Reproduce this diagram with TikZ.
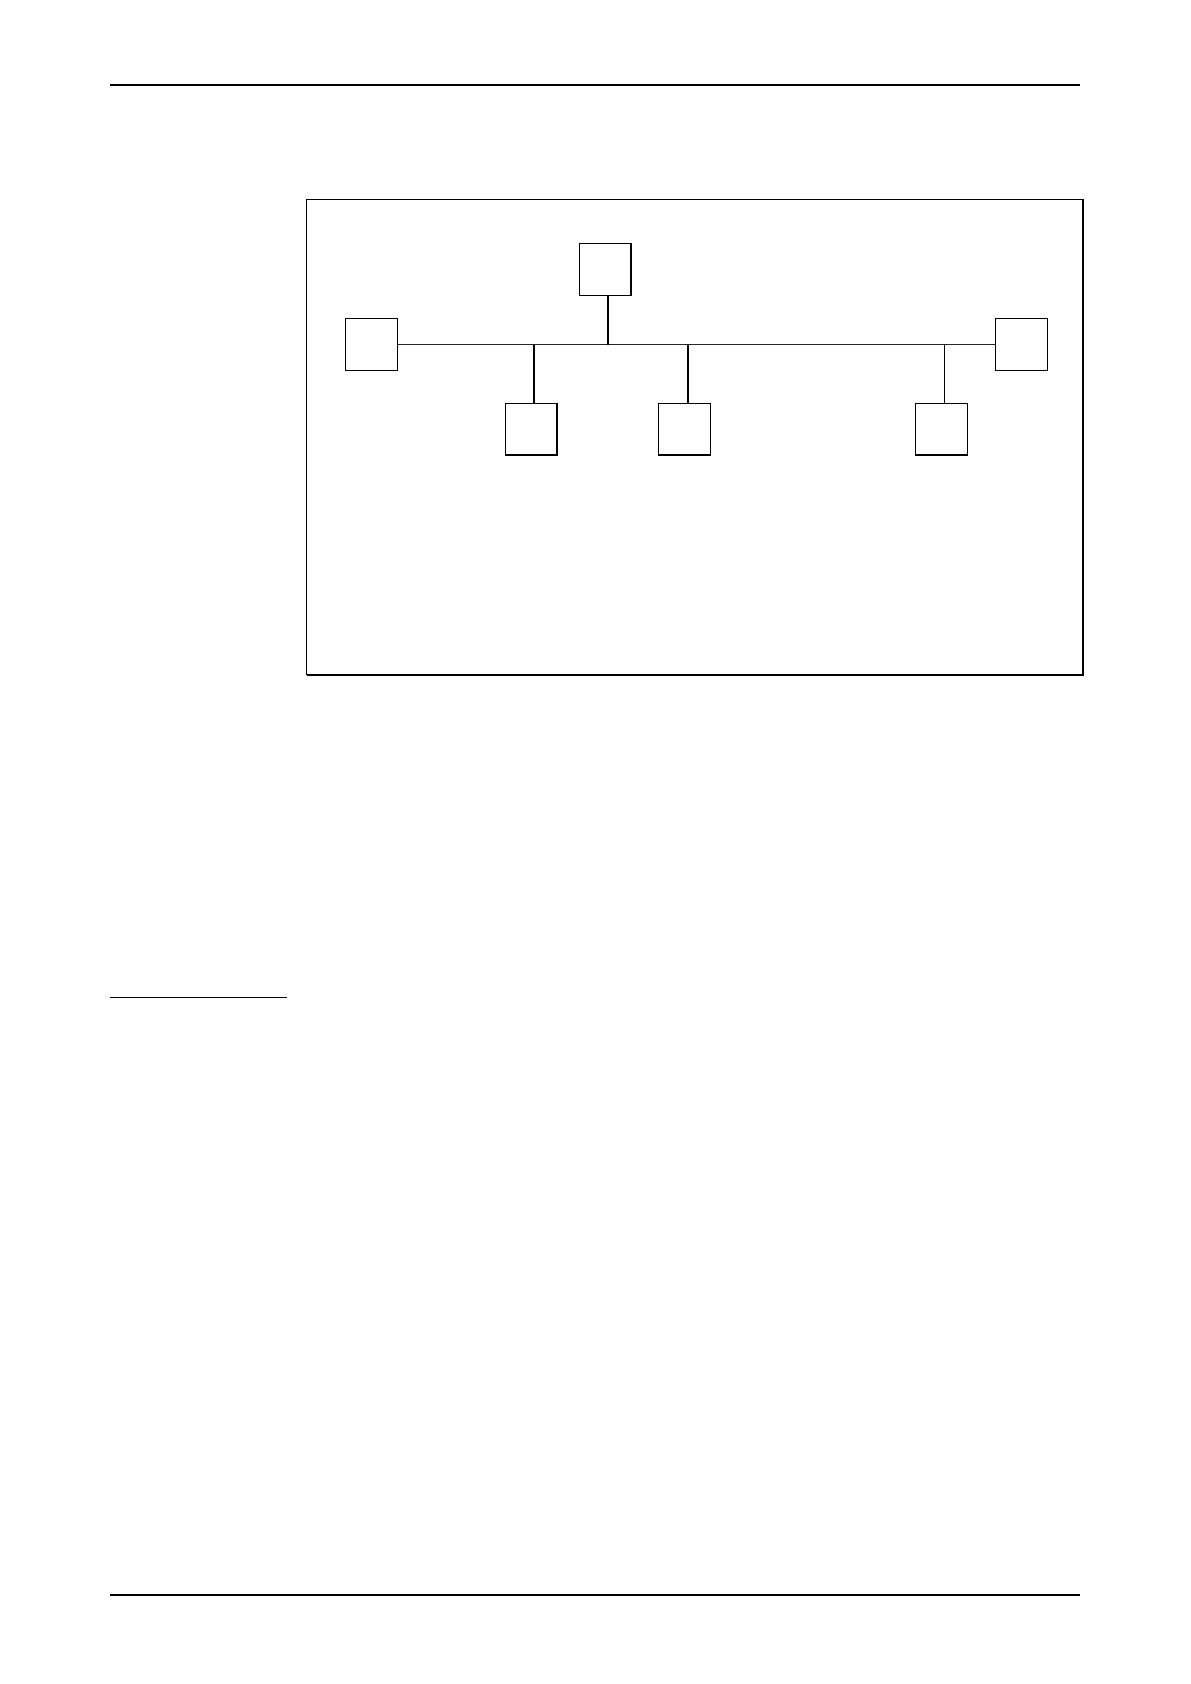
\documentclass[tikz,border=0pt]{standalone}
\begin{document}
\begin{tikzpicture}[x=0.5pt,y=-0.5pt,
  box/.style={draw=black,line width=0.7pt,minimum size=25.8pt,inner sep=0pt,fill=white},
  rule/.style={line width=0.55pt},
  thickrule/.style={line width=0.9pt},
  bus/.style={line width=0.55pt,draw=black!85},
  stem/.style={line width=0.65pt},
  thinstem/.style={line width=0.4pt}]
\useasboundingbox (0,0) rectangle (1190,1684);
\fill[white] (0,0) rectangle (1190,1684);
% page rules
\coordinate (hl) at (110,85); \coordinate (hr) at (1080,85);
\draw[rule] (hl) -- (hr);
\coordinate (fnl) at (110,997.3); \coordinate (fnr) at (286.7,997.3);
\draw[rule] (fnl) -- (fnr);
\coordinate (ftl) at (110,1594.7); \coordinate (ftr) at (1080,1594.7);
\draw[thickrule] (ftl) -- (ftr);
% frame
\coordinate (fTL) at (306.7,199.3); \coordinate (fBR) at (1082.7,674.7);
\draw[line width=0.55pt] (fTL) rectangle (fBR);
\draw[line width=1.1pt] (fTL -| fBR) -- (fBR) -- (fBR -| fTL);
% stations
\node[box] (n1) at (371.5,344.6) {};
\node[box] (n2) at (605.3,269.5) {};
\node[box] (n3) at (531.2,429.2) {};
\node[box] (n4) at (684.5,429.2) {};
\node[box] (n5) at (941.5,429.2) {};
\node[box] (n6) at (1021.5,344.6) {};
% bus
\draw[bus] (n1.east) -- (n6.west);
\coordinate (s2) at (608,344.6);
\coordinate (s3) at (534,344.6);
\coordinate (s4) at (687.7,344.6);
\coordinate (s5) at (944.3,344.6);
\draw[stem] (n2.south -| s2) -- (s2);
\draw[stem,line width=0.8pt] (n3.north -| s3) -- (s3);
\draw[stem,line width=0.8pt] (n4.north -| s4) -- (s4);
\draw[thinstem] (n5.north -| s5) -- (s5);
\end{tikzpicture}
\end{document}
